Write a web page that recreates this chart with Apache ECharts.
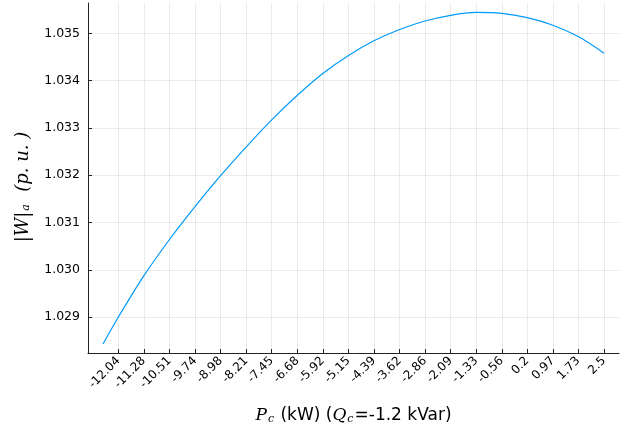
<!DOCTYPE html>
<html>
<head>
<meta charset="utf-8">
<script src="https://cdn.jsdelivr.net/npm/echarts@6/dist/echarts.min.js"></script>
<style>
  html, body { margin: 0; padding: 0; background: #fff; }
  #chart { width: 629px; height: 428px; }
</style>
</head>
<body>
<div id="chart"></div>
<script>
// P_c (kW) sweep and |W|_a (p.u.)
const pc = [-12.5, -12.04, -11.28, -10.51, -9.74, -8.98, -8.21, -7.45, -6.68, -5.92, -5.15,
            -4.39, -3.62, -2.86, -2.09, -1.33, -0.56, 0.2, 0.97, 1.73, 2.5]
const wa = [1.02843, 1.02900, 1.02987, 1.03064, 1.03134, 1.03199, 1.03260, 1.03317, 1.03369, 1.03415, 1.03453,
            1.03484, 1.03508, 1.03526, 1.03538, 1.03544, 1.03542, 1.03533, 1.03517, 1.03493, 1.03458]
const xTicks = [-12.04, -11.28, -10.51, -9.74, -8.98, -8.21, -7.45, -6.68, -5.92, -5.15,
                -4.39, -3.62, -2.86, -2.09, -1.33, -0.56, 0.2, 0.97, 1.73, 2.5]
const yTicks = [1.029, 1.030, 1.031, 1.032, 1.033, 1.034, 1.035]

const font = 'DejaVu Sans'
const mathFont = 'DejaVu Serif'
const gridLine = { show: true, lineStyle: { color: 'rgba(0,0,0,0.08)', width: 1 } }
const axisColor = '#222'

const chart = echarts.init(document.getElementById('chart'))
chart.setOption({
    animation: false,
    grid: { left: 88, right: 10, top: 3, bottom: 75, containLabel: false, outerBoundsMode: 'none' },
    xAxis: {
        type: 'value',
        min: -12.95,
        max: 2.95,
        axisLine: { show: true, onZero: false, lineStyle: { color: axisColor, width: 1 } },
        axisTick: { show: true, inside: true, length: 4, customValues: xTicks, lineStyle: { color: axisColor } },
        axisLabel: {
            customValues: xTicks,
            rotate: 45,
            hideOverlap: false,
            margin: 6,
            fontFamily: font,
            fontSize: 12,
            color: '#000',
            formatter: v => String(v)
        },
        splitLine: gridLine,
        name: '{pi|P}{sub|c}{t| (kW) (}{pi|Q}{sub|c}{t|=-1.2 kVar)}',
        nameLocation: 'middle',
        nameGap: 46,
        nameTextStyle: {
            rich: {
                pi: { fontFamily: mathFont, fontStyle: 'italic', fontSize: 17, color: '#000', verticalAlign: 'middle', lineHeight: 18 },
                sub: { fontFamily: mathFont, fontStyle: 'italic', fontSize: 11, color: '#000', verticalAlign: 'bottom', lineHeight: 12, padding: [16, 1, 0, 1] },
                t: { fontFamily: font, fontSize: 17, color: '#000', verticalAlign: 'middle', lineHeight: 18 }
            }
        }
    },
    yAxis: {
        type: 'value',
        min: 1.02824,
        max: 1.03564,
        axisLine: { show: true, onZero: false, lineStyle: { color: axisColor, width: 1 } },
        axisTick: { show: true, inside: true, length: 4, customValues: yTicks, lineStyle: { color: axisColor } },
        axisLabel: {
            customValues: yTicks,
            margin: 8,
            fontFamily: font,
            fontSize: 12.5,
            color: '#000',
            formatter: v => v.toFixed(3)
        },
        splitLine: gridLine,
        name: '{pi||W|}{sub|a}{end|  (p. u. )}',
        nameLocation: 'middle',
        nameGap: 56,
        nameTextStyle: {
            rich: {
                pi: { fontFamily: mathFont, fontStyle: 'italic', fontSize: 18, color: '#000', verticalAlign: 'middle', lineHeight: 18 },
                sub: { fontFamily: mathFont, fontStyle: 'italic', fontSize: 11, color: '#000', verticalAlign: 'bottom', lineHeight: 12, padding: [16, 1, 0, 1] },
                end: { fontFamily: mathFont, fontStyle: 'italic', fontSize: 18, color: '#000', verticalAlign: 'middle', lineHeight: 18, padding: [0, 18, 0, 0] }
            }
        }
    },
    series: [{
        type: 'line',
        data: pc.map((x, i) => [x, wa[i]]),
        smooth: 0.3,
        showSymbol: false,
        lineStyle: { color: '#009AFA', width: 1.2 }
    }]
})
</script>
</body>
</html>
